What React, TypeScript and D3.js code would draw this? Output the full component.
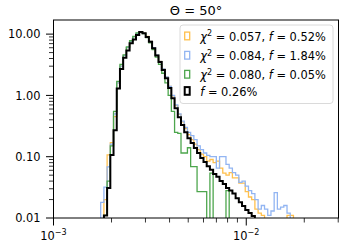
import React from 'react';
import * as d3 from 'd3';

const W = 344;
const H = 249;

// histogram bins: log-spaced, 60 per decade
const binsPerDecade = 60;
const firstEdgeLog = -2.7552;

// bin values, index 0 = first bin (n = -1)
const orangeVals = [
  0, 0.02, 0.107, 0.17, 0.45, 1.6, 3.0, 4.5, 6.0, 7.6,
  9.0, 10.2, 10.8, 10.4, 9.2, 7.6, 6.0, 4.6, 3.6, 2.7,
  2.0, 1.4, 0.98, 0.68, 0.49, 0.37, 0.29, 0.23, 0.19, 0.16,
  0.13, 0.11, 0.10, 0.085, 0.09, 0.08, 0.085, 0.065, 0.054, 0.05,
  0.055, 0.045, 0.045, 0.037, 0.037, 0.027, 0.022, 0.02, 0.014, 0.012,
  0.011, 0, 0, 0, 0, 0, 0, 0, 0.011, 0.011, 0,
];
const blueVals = [
  0.018, 0.032, 0.068, 0.16, 0.5, 1.6, 3.0, 4.5, 6.0, 7.6,
  9.0, 10.2, 10.7, 10.3, 9.1, 7.6, 6.0, 4.6, 3.6, 2.7,
  2.0, 1.4, 1.0, 0.70, 0.50, 0.38, 0.30, 0.25, 0.22, 0.19,
  0.15, 0.13, 0.115, 0.105, 0.1, 0.1, 0.065, 0.1, 0.1, 0.075,
  0.065, 0.055, 0.05, 0.038, 0.04, 0.033, 0.028, 0.025, 0.02, 0.014,
  0.016, 0.014, 0.011, 0.013, 0.026, 0.014, 0.015, 0.016, 0.012, 0, 0,
];
const greenVals = [
  0, 0.011, 0.04, 0.15, 0.55, 1.7, 3.2, 4.6, 6.2, 7.8,
  9.2, 10.5, 11.0, 10.2, 8.8, 7.2, 5.6, 4.2, 3.2, 2.3,
  1.6, 1.0, 0.55, 0.25, 0.24, 0.115, 0.115, 0.14, 0.069, 0.069,
  0.027, 0.027, 0.027, 0, 0.054, 0, 0, 0, 0, 0.028,
  0, 0, 0, 0, 0, 0, 0, 0, 0, 0,
  0, 0, 0, 0, 0, 0, 0, 0, 0, 0, 0,
];
const blackVals = [
  0, 0.011, 0.031, 0.107, 0.27, 1.3, 2.7, 4.1, 5.4, 7.1,
  8.2, 9.7, 10.8, 10.3, 9.0, 7.5, 5.9, 4.5, 3.5, 2.6,
  1.9, 1.32, 0.90, 0.62, 0.44, 0.33, 0.25, 0.20, 0.167, 0.139,
  0.115, 0.095, 0.082, 0.070, 0.061, 0.052, 0.047, 0.040, 0.036, 0.031,
  0.028, 0.025, 0.021, 0.018, 0.0157, 0.0135, 0.0121, 0.0108, 0, 0,
  0, 0, 0, 0, 0, 0, 0, 0, 0, 0, 0,
];

const chi2Labels = ['0.057', '0.084', '0.080', ''];
const fLabels = ['0.52%', '1.84%', '0.05%', '0.26%'];
const colors = ['#ffc04d', '#92b5f2', '#4da64d', '#000000'];
const lineWidths = [1.3, 1.3, 1.3, 2];
const allVals = [orangeVals, blueVals, greenVals, blackVals];

const yMajor = [0.01, 0.1, 1, 10];
const yMajorLabels = ['0.01', '0.10', '1.00', '10.00'];
const xMajor = [1e-3, 1e-2];
const xMajorExp = ['\u22123', '\u22122'];

const FONT = 'DejaVu Sans';

export default function App() {
  const left = 53.5, right = 338.5, top = 20, bottom = 218;
  const x = d3.scaleLog().domain([1e-3, 0.0301]).range([left, right]);
  const y = d3.scaleLog().domain([0.01, 17]).range([bottom, top]);

  const edgeVal = (k: number) => Math.pow(10, firstEdgeLog + k / binsPerDecade);
  const floor = 1e-4;
  const line = d3.line<[number, number]>().x(d => x(d[0])).y(d => y(d[1]));

  const paths = allVals.map(vals => {
    const pts: [number, number][] = [[edgeVal(0), floor]];
    vals.forEach((v, i) => {
      const vv = Math.max(v, floor);
      pts.push([edgeVal(i), vv]);
      pts.push([edgeVal(i + 1), vv]);
    });
    pts.push([edgeVal(vals.length), floor]);
    return line(pts) as string;
  });

  const yMinor: number[] = [];
  for (const d of [0.01, 0.1, 1, 10]) {
    for (let m = 2; m <= 9; m++) {
      const v = d * m;
      if (v <= 17) yMinor.push(v);
    }
  }
  const xMinor: number[] = [];
  for (const d of [1e-3, 1e-2]) {
    for (let m = 2; m <= 9; m++) {
      const v = d * m;
      if (v <= 0.0301) xMinor.push(v);
    }
  }

  const legendX = 180, legendY = 25, legendW = 153, legendH = 78.5;
  const rowBase = [40.7, 60, 79, 95.7];

  return (
    <svg width={W} height={H} style={{ position: 'absolute', left: 0, top: 0 }} fontFamily={FONT}>
      <rect x={0} y={0} width={W} height={H} fill="#fff" />
      <defs>
        <clipPath id="plotclip">
          <rect x={left} y={top} width={right - left} height={bottom - top} />
        </clipPath>
      </defs>
      <g clipPath="url(#plotclip)">
        {paths.map((p, i) => (
          <path key={i} d={p} fill="none" stroke={colors[i]} strokeWidth={lineWidths[i]}
            strokeLinejoin="miter" />
        ))}
      </g>
      {/* spines */}
      <rect x={left} y={top} width={right - left} height={bottom - top} fill="none" stroke="#000" strokeWidth={1} />
      {/* y ticks */}
      {yMinor.map((v, i) => (
        <line key={'ym' + i} x1={left - 4.5} x2={left} y1={y(v)} y2={y(v)} stroke="#000" strokeWidth={0.8} />
      ))}
      {yMajor.map((v, i) => (
        <g key={'yM' + i}>
          <line x1={left - 7.5} x2={left} y1={y(v)} y2={y(v)} stroke="#000" strokeWidth={1} />
          <text x={40.5} y={y(v)} dy="0.36em" textAnchor="end" fontSize={11.4} fill="#000">{yMajorLabels[i]}</text>
        </g>
      ))}
      {/* x ticks */}
      {xMinor.map((v, i) => (
        <line key={'xm' + i} x1={x(v)} x2={x(v)} y1={bottom} y2={bottom + 4.5} stroke="#000" strokeWidth={0.8} />
      ))}
      {xMajor.map((v, i) => (
        <g key={'xM' + i}>
          <line x1={x(v)} x2={x(v)} y1={bottom} y2={bottom + 7.5} stroke="#000" strokeWidth={1} />
          <text x={x(v)} y={240} textAnchor="middle" fontSize={11.4} fill="#000">
            10<tspan fontSize={8} dy={-5}>{xMajorExp[i]}</tspan>
          </text>
        </g>
      ))}
      {/* title */}
      <text x={(left + right) / 2} y={15} textAnchor="middle" fontSize={13} fill="#000">
        {'\u0398 = 50\u00b0'}
      </text>
      {/* legend */}
      <rect x={legendX} y={legendY} width={legendW} height={legendH} rx={3} ry={3}
        fill="#fff" fillOpacity={0.8} stroke="#d0d0d0" strokeWidth={0.8} />
      {fLabels.map((f, i) => (
        <g key={'lg' + i}>
          <rect x={184.7} y={rowBase[i] - 8.6} width={5} height={7.7} fill="none"
            stroke={colors[i]} strokeWidth={lineWidths[i]} />
          <text x={200.3} y={rowBase[i]} fontSize={11.4} fill="#000">
            {chi2Labels[i] !== '' ? (
              <>
                <tspan fontStyle="italic">{'\u03c7'}</tspan>
                <tspan fontSize={8} dy={-4.5}>2</tspan>
                <tspan dy={4.5}>{' = ' + chi2Labels[i] + ', '}</tspan>
              </>
            ) : null}
            <tspan fontStyle="italic">f</tspan>
            <tspan>{' = ' + f}</tspan>
          </text>
        </g>
      ))}
    </svg>
  );
}
